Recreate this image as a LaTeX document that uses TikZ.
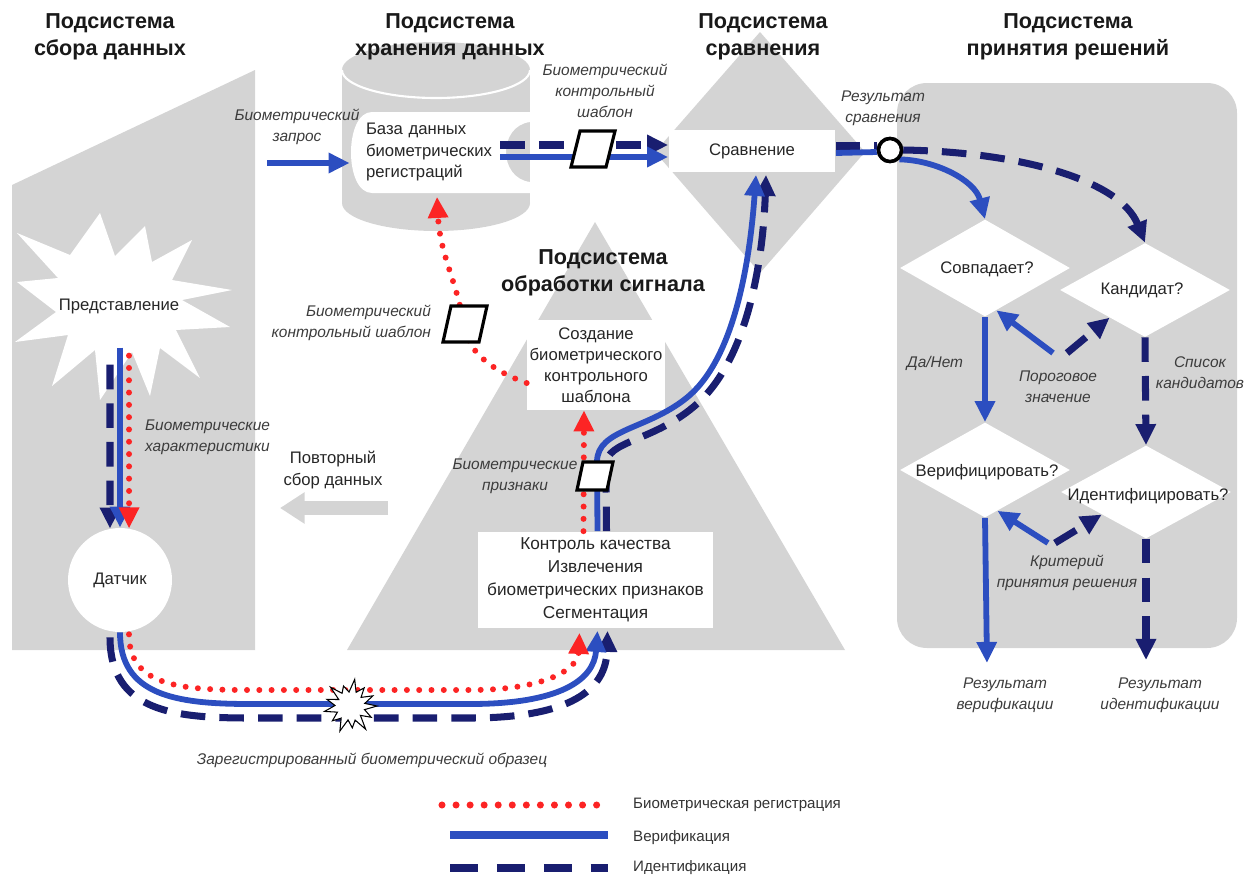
\documentclass[tikz,border=0pt]{standalone}
\usepackage{fontspec}
\setmainfont{Liberation Sans}
\usetikzlibrary{arrows.meta,shapes.geometric,calc,positioning}

\definecolor{panelgray}{RGB}{212,212,212}
\definecolor{verblue}{RGB}{44,78,192}
\definecolor{idnavy}{RGB}{25,30,112}
\definecolor{regred}{RGB}{252,36,36}
\definecolor{labelgray}{RGB}{60,60,60}

\tikzset{
  title/.style={font=\fontsize{12.3}{15.3}\selectfont\bfseries, align=center, text=black!90, inner sep=0pt},
  body/.style={font=\fontsize{9.5}{12}\selectfont, align=center, text=black!85},
  note/.style={font=\fontsize{8.8}{12}\selectfont\itshape, align=center, text=labelgray, inner sep=1pt},
  legendtxt/.style={font=\fontsize{8.6}{10}\selectfont, text=black!80, anchor=west},
  whitebox/.style={fill=white, inner sep=0pt},
  decision/.style={diamond, fill=white, inner sep=0pt, minimum width=3.4cm},
  tmpl/.style={fill=white, draw=black, line width=1.8pt},
  arrowhd/.style={-{Triangle[length=12pt,width=11pt]}},
  verline/.style={draw=verblue, line width=3.3pt},
  idline/.style={draw=idnavy, line width=4pt, dash pattern=on 14pt off 8pt},
  regline/.style={draw=regred, line width=3.4pt, line cap=round, dash pattern=on 0pt off 7pt},
}

\begin{document}
\begin{tikzpicture}[x=0.02cm, y=-0.02cm]
\useasboundingbox (0,0) rectangle (1245,876);

% subsystem backgrounds
\fill[panelgray] (12,185) -- (255,70) -- (255,650) -- (12,650) -- cycle;
\fill[panelgray] (436,70) ellipse[x radius=94, y radius=28];
\fill[panelgray] (342,70) rectangle (530,203);
\fill[panelgray] (436,203) ellipse[x radius=94, y radius=28];
\draw[white, line width=1.2pt] (342,70) arc[start angle=180, end angle=0, x radius=94, y radius=28];
\fill[panelgray] (760,32) -- (865,152) -- (760,273) -- (655,152) -- cycle;
\fill[panelgray] (595,222) -- (845,650) -- (347,650) -- cycle;
\fill[panelgray, rounded corners=0.6cm] (897,83) rectangle (1237,648);

% white inner shapes
\fill[white] (232,290) -- (182,300) -- (230,327) -- (176,330) -- (200,378) -- (160,348)
  -- (150,396) -- (132,352) -- (100,400) -- (95,350) -- (52,386) -- (68,335) -- (15,342)
  -- (56,312) -- (17,282) -- (58,278) -- (17,233) -- (70,255) -- (100,213) -- (115,256)
  -- (145,226) -- (152,262) -- (192,240) -- (172,280) -- cycle;
\fill[white] (372,112) -- (530,112) -- (530,122) .. controls (498,126) and (498,178) .. (530,182)
  -- (530,193) -- (372,193) .. controls (344,193) and (344,112) .. (372,112) -- cycle;

% titles
\node[title] (tcollect) at (110,37) {Подсистема\\сбора данных};
\node[title] (tstore) at (450,37) {Подсистема\\хранения данных};
\node[title] (tcompare) at (763,37) {Подсистема\\сравнения};
\node[title] (tsignal) at (603,273) {Подсистема\\обработки сигнала};
\node[title] (tdecide) at (1068,37) {Подсистема\\принятия решений};

% boxes
\node[body] (repr) at (119,306) {Представление};
\node[body, circle, fill=white, inner sep=0pt, minimum size=2.08cm] (sensor) at (120,580) {Датчик};
\node[body, minimum width=3.56cm, minimum height=1.62cm, text width=3cm, align=left] (db) at (441,152) {База данных\\биометрических\\регистраций};
\node[body, whitebox, minimum width=3.34cm, minimum height=0.86cm] (cmp) at (752,151) {Сравнение};
\node[body, whitebox, minimum width=2.76cm, minimum height=1.8cm] (create) at (596,365) {Создание\\биометрического\\контрольного\\шаблона};
\node[body, whitebox, font=\fontsize{9.8}{13}\selectfont, minimum width=4.7cm, minimum height=1.94cm] (quality) at (595.5,580) {Контроль качества\\Извлечения\\биометрических признаков\\Сегментация};

\node[decision, minimum height=1.94cm] (match) at (985,268) {};
\node[decision, minimum height=1.88cm] (cand) at (1145,290) {};
\node[decision, minimum height=1.9cm] (verify) at (985,470) {};
\node[decision, minimum height=1.86cm] (identq) at (1146,492) {};
\node[body] (matchtxt) at (987,269) {Совпадает?};
\node[body] (candtxt) at (1142,290) {Кандидат?};
\node[body] (verifytxt) at (987,472) {Верифицировать?};
\node[body] (identtxt) at (1148,496) {Идентифицировать?};

% collection column
\draw[idline, arrowhd] ($(sensor.north)+(-10,-163)$) -- (sensor.101);
\draw[verline, arrowhd] ($(sensor.north)+(0,-180)$) -- (sensor.north);
\draw[regline, arrowhd] ($(sensor.north)+(9,-172)$) -- (sensor.80);

% repeat collection
\node[body] (again) at (333,470) {Повторный\\сбор данных};
\coordinate (againR) at (388,508);
\coordinate (againL) at (280,508);
\draw[panelgray, line width=8.5pt, -{Triangle[length=14pt,width=17pt]}] (againR) -- (againL);

% query into storage
\coordinate (query) at (267,163);
\draw[verline, arrowhd] (query) -- ($(db.west)+(-2,11)$);

% storage to comparison
\draw[idline, arrowhd] ($(db.east)+(-30,-7)$) -- ($(cmp.west)+(0,-6)$);
\draw[verline, arrowhd] ($(db.east)+(-30,5)$) -- ($(cmp.west)+(0,6)$);

% sample path
\draw[idline, arrowhd] ($(sensor.south)+(-10,5)$) .. controls (110,712) and (175,718) .. (250,718)
  -- (470,718) .. controls (570,718) and (606,690) .. ($(quality.south)+(12,2)$);
\draw[verline, arrowhd] (sensor.south) .. controls (120,695) and (175,704) .. (250,704)
  -- (470,704) .. controls (560,704) and (594,680) .. ($(quality.south)+(2,2)$);
\draw[regline, arrowhd] ($(sensor.south)+(9,2)$) .. controls (129,686) and (180,690) .. (250,690)
  -- (470,690) .. controls (548,690) and (578,668) .. ($(quality.south)+(-16,4)$);

% signal processing
\draw[regline, arrowhd] ($(quality.north)+(-12,0)$) -- ($(create.south)+(-12,0)$);
\draw[idline, arrowhd] ($(quality.north)+(11,0)$) -- (606,465) .. controls (606,440) and (655,442) .. (698,403)
  .. controls (748,357) and (763,260) .. ($(cmp.south)+(14,2)$);
\draw[verline, arrowhd] ($(quality.north)+(2,0)$) -- (597,462) .. controls (597,428) and (650,430) .. (690,395)
  .. controls (735,355) and (750,260) .. ($(cmp.south)+(4,2)$);
\draw[regline, arrowhd] ($(create.west)+(0,18)$) .. controls (490,370) and (466,350) .. (463,322)
  .. controls (458,285) and (440,255) .. ($(db.south)+(-4,4)$);

% comparison result
\node[circle, fill=white, draw=black, line width=2pt, minimum size=0.46cm, inner sep=0pt] (res) at (890,150) {};
\draw[idline] ($(cmp.east)+(0,-5)$) -- ($(res.west)+(0,-4)$);
\draw[verline] ($(cmp.east)+(0,2)$) -- ($(res.west)+(0,2)$);
\draw[idline, arrowhd] (res.east) .. controls (1020,152) and (1120,180) .. (cand.north);
\draw[verline, arrowhd] (res.south east) .. controls (935,160) and (975,180) .. (match.north);
\node[circle, fill=white, draw=black, line width=2pt, minimum size=0.46cm, inner sep=0pt] at (res) {};

% decision flow
\node[note] (yesno) at (935,363) {Да/Нет};
\node[note] (cands) at (1200,373) {Список\\кандидатов};
\node[note] (thr) at (1058,387) {Пороговое\\значение};
\node[note] (crit) at (1067,573) {Критерий\\принятия решения};
\draw[verline, arrowhd] (match.south) -- (verify.north);
\draw[idline, arrowhd] (cand.south) -- (identq.north);
\draw[verline, arrowhd] ($(thr)+(-5,-34)$) -- (match.-75);
\draw[idline, arrowhd] ($(thr)+(9,-34)$) -- (cand.218);
\draw[verline, arrowhd] ($(crit)+(-19,-30)$) -- (verify.-73);
\draw[idline, arrowhd] ($(crit)+(-12,-30)$) -- (identq.207);
\coordinate (verres) at (987,663);
\coordinate (idres) at (1146,660);
\draw[verline, arrowhd] (verify.south) -- (verres);
\draw[idline, arrowhd] (identq.south) -- (idres);
\node[note] (verlbl) at (1005,695) {Результат\\верификации};
\node[note] (idlbl) at (1160,695) {Результат\\идентификации};

% templates and sample
\coordinate (tmplA) at (593,149);
\coordinate (tmplB) at (595,476);
\coordinate (tmplC) at (465,324);
\filldraw[tmpl] ($(tmplA)+(-22,18)$) -- ++(35,0) -- ++(9,-36) -- ++(-35,0) -- cycle;
\filldraw[tmpl] ($(tmplB)+(-18,14)$) -- ++(30,0) -- ++(6,-28) -- ++(-30,0) -- cycle;
\filldraw[tmpl] ($(tmplC)+(-22,18)$) -- ++(36,0) -- ++(8,-36) -- ++(-36,0) -- cycle;
\filldraw[fill=white, draw=black, line width=0.6pt, shift={(350,706)}] (0:27)
  \foreach \a/\r in {14/15,28/24,42/14,56/28,70/15,84/22,98/14,112/27,126/15,140/23,154/14,168/26,182/15,196/24,210/13,224/27,238/15,252/21,266/14,280/27,294/15,308/23,322/14,336/25,350/15} { -- (\a:\r) } -- cycle;

% labels
\node[note] (reqlbl) at (297,127) {Биометрический\\запрос};
\node[note] (tmplAlbl) at (605,91) {Биометрический\\контрольный\\шаблон};
\node[note, align=right, anchor=east] (tmplClbl) at (433,323) {Биометрический\\контрольный шаблон};
\node[note] (featlbl) at (515,476) {Биометрические\\признаки};
\node[note, align=left, anchor=west] (charlbl) at (143,437) {Биометрические\\характеристики};
\node[note] (reslbl) at (883,108) {Результат\\сравнения};
\node[note] (samplelbl) at (372,760) {Зарегистрированный биометрический образец};

% legend
\node[legendtxt] (lgreg) at (627,805) {Биометрическая регистрация};
\node[legendtxt] (lgver) at (627,838) {Верификация};
\node[legendtxt] (lgid) at (627,868) {Идентификация};
\draw[regline, line width=4pt, dash pattern=on 0pt off 8pt] ($(lgreg.west)+(-185,0)$) -- ($(lgreg.west)+(-28,0)$);
\draw[verline, line width=4.5pt] ($(lgver.west)+(-177,-3)$) -- ($(lgver.west)+(-19,-3)$);
\draw[idline, line width=4.5pt, dash pattern=on 15.9pt off 10.8pt] ($(lgid.west)+(-177,0)$) -- ($(lgid.west)+(-19,0)$);
\end{tikzpicture}
\end{document}
